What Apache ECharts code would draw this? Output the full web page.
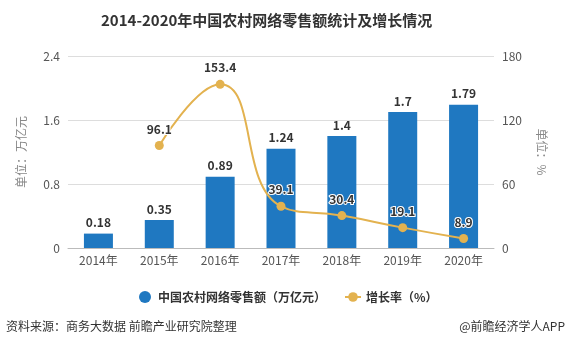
<!DOCTYPE html>
<html><head><meta charset="utf-8">
<script src="https://cdn.jsdelivr.net/npm/echarts@6/dist/echarts.min.js"></script>
<style>html,body{margin:0;padding:0;background:#fff}#c{width:568px;height:347px}</style>
</head><body><div id="c"></div>
<script>
const categories = ['2014年','2015年','2016年','2017年','2018年','2019年','2020年'];
const salesValues = [0.18, 0.35, 0.89, 1.24, 1.4, 1.7, 1.79];
const growthValues = [null, 96.1, 153.4, 39.1, 30.4, 19.1, 8.9];
const leftTicks = [0, 0.8, 1.6, 2.4];
const rightTicks = [0, 60, 120, 180];

const chart = echarts.init(document.getElementById('c'));
const font = '"Microsoft YaHei","Noto Sans CJK SC",sans-serif';
chart.setOption({
  animation: false,
  textStyle: {fontFamily: font},
  title: {
    text: '2014-2020年中国农村网络零售额统计及增长情况',
    left: 96, top: 8,
    textStyle: {fontSize: 15, fontWeight: 'bold', color: '#333', fontFamily: font}
  },
  grid: {left: 68, right: 74, top: 56, bottom: 99},
  legend: {
    top: 286, left: 134, itemGap: 18, itemWidth: 16, itemHeight: 12,
    textStyle: {fontSize: 12, color: '#333', fontWeight: 'bold'},
    data: [
      {name: '中国农村网络零售额（万亿元）', icon: 'circle'},
      {name: '增长率（%）'}
    ]
  },
  xAxis: {
    type: 'category', data: categories,
    axisLine: {lineStyle: {color: '#bbb'}},
    axisTick: {alignWithLabel: true, length: 4, lineStyle: {color: '#bbb'}},
    axisLabel: {color: '#555', fontSize: 12, margin: 6}
  },
  yAxis: [
    {
      type: 'value', min: leftTicks[0], max: leftTicks[leftTicks.length-1], interval: 0.8,
      name: '单位：万亿元', nameLocation: 'middle', nameGap: 41, nameRotate: 90,
      nameTextStyle: {color: '#888', fontSize: 12},
      axisLine: {show: false}, axisTick: {show: false},
      axisLabel: {color: '#555', fontSize: 12},
      splitLine: {lineStyle: {color: '#ddd'}}
    },
    {
      type: 'value', min: rightTicks[0], max: rightTicks[rightTicks.length-1], interval: 60,
      name: '单位：%', nameLocation: 'middle', nameGap: 42, nameRotate: -90,
      nameTextStyle: {color: '#888', fontSize: 12},
      axisLine: {show: false}, axisTick: {show: false},
      axisLabel: {color: '#555', fontSize: 12},
      splitLine: {show: false}
    }
  ],
  series: [
    {
      name: '中国农村网络零售额（万亿元）', type: 'bar', data: salesValues,
      barWidth: 29, itemStyle: {color: '#1f78c1'},
      label: {show: true, position: 'top', color: '#333', fontWeight: 'bold', fontSize: 12}
    },
    {
      name: '增长率（%）', type: 'line', yAxisIndex: 1, data: growthValues,
      smooth: true, symbol: 'circle', symbolSize: 9,
      lineStyle: {color: '#e3b24f', width: 2},
      itemStyle: {color: '#e3b24f'},
      label: {show: true, position: 'top', color: '#333', fontWeight: 'bold', fontSize: 12,
        textBorderColor: '#fff', textBorderWidth: 2, distance: 6}
    }
  ],
  graphic: [
    {type: 'text', left: 6, top: 320, style: {text: '资料来源：商务大数据 前瞻产业研究院整理', fill: '#333', font: '12px ' + font}},
    {type: 'text', right: 3, top: 320, style: {text: '@前瞻经济学人APP', fill: '#333', font: '12px ' + font}}
  ]
});
</script></body></html>
